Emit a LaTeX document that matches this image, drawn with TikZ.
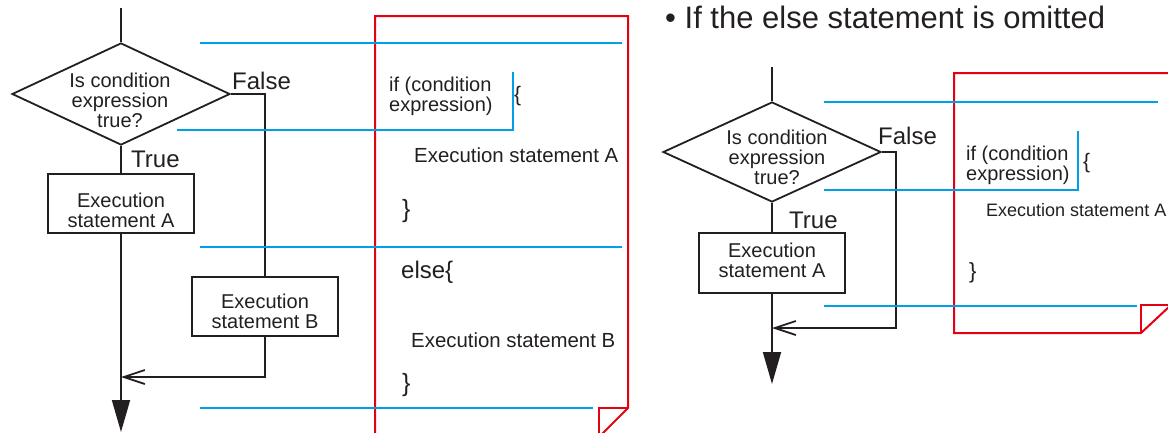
\documentclass[tikz,border=0pt]{standalone}
\usepackage{fontspec}
\setmainfont{Liberation Sans}
\usetikzlibrary{shapes.geometric,arrows.meta}
\definecolor{ink}{HTML}{231F20}
\definecolor{guide}{HTML}{00A0E9}
\definecolor{sheetred}{HTML}{E50012}
\newcommand\fsz[1]{\fontsize{#1}{#1}\selectfont}
\begin{document}
\begin{tikzpicture}[x=1pt,y=-1pt,
  flow/.style={draw=ink,line width=1.8pt},
  decide/.style={diamond,draw=ink,line width=1.8pt,inner sep=0pt,
    minimum width=218pt,minimum height=102pt,aspect=2.14},
  stmtbox/.style={draw=ink,line width=1.8pt,inner sep=0pt,
    minimum width=146pt,minimum height=59pt},
  txt/.style={text=ink,inner sep=0pt,font=\fsz{20}},
  ctxt/.style={txt,align=center,anchor=base},
  ltxt/.style={txt,align=left,anchor=base west},
  guideline/.style={draw=guide,line width=2pt},
  sheet/.style={draw=sheetred,line width=2pt,line join=miter},
  merge/.style={-{Straight Barb[length=21pt,width=14pt]}},
  down/.style={-{Triangle[length=32pt,width=18pt]}}
]
\clip (0,0) rectangle (1168,432);

% ---------- if / else flowchart ----------
% (multi-line labels are placed by the baseline of their last line)
\coordinate (topL) at (121,8);
\node[decide] (condL) at (121,94) {};
\node[ctxt] (condLt) at (120,127) {Is condition\\expression\\true?};
\node[txt,anchor=base west,font=\fsz{24}] (falseL) at (232,89) {False};
\node[txt,anchor=base west,font=\fsz{24}] (trueL) at (131,167) {True};
\node[stmtbox] (aL) at (121,203.5) {};
\node[ctxt] (aLt) at (121,227) {Execution\\statement A};
\node[stmtbox] (bL) at (265,306.5) {};
\node[ctxt] (bLt) at (265,328) {Execution\\statement B};
\coordinate (joinL) at (121,377);
\coordinate (endL) at (121,432);

\draw[flow] (topL) -- (condL.north);
\draw[flow] (condL.south) -- (aL.north);
\draw[flow] (condL.east) -| (bL.north);
\draw[flow,down] (aL.south) -- (endL);
\draw[flow,merge] (bL.south) |- (joinL);

% code sheet for if / else
\draw[sheet] (375,437) -- (375,16) -- (628,16) -- (628,408) -- (599,437) -- cycle;
\draw[sheet] (628,408) -- (599,408) -- (599,437);
\draw[guideline] (200,43) -- (622,43);
\draw[guideline] (177,130) -- (513,130) -- (513,72);
\draw[guideline] (200,247) -- (622,247);
\draw[guideline] (200,408) -- (593,408);

\node[ltxt] (ifL) at (389,111) {if (condition\\expression)};
\node[txt,anchor=base west,font=\fsz{21}] (openL) at (514,101) {\{};
\node[txt,anchor=base west,font=\fsz{20.4}] (stAL) at (414,162) {Execution statement A};
\node[txt,anchor=base west,font=\fsz{25}] (closeAL) at (402,217) {\}};
\node[txt,anchor=base west,font=\fsz{24}] (elseL) at (401,278) {else\{};
\node[txt,anchor=base west,font=\fsz{20.4}] (stBL) at (411,347) {Execution statement B};
\node[txt,anchor=base west,font=\fsz{25}] (closeBL) at (402,391) {\}};

% ---------- if without else ----------
\node[txt,anchor=base west,font=\fsz{31}] (title) at (665,28) {• If the else statement is omitted};

\coordinate (topR) at (772,67);
\node[decide,minimum height=100pt] (condR) at (772,152) {};
\node[ctxt] (condRt) at (777,184) {Is condition\\expression\\true?};
\node[txt,anchor=base west,font=\fsz{24}] (falseR) at (878,144) {False};
\node[txt,anchor=base west,font=\fsz{24}] (trueR) at (789,228) {True};
\node[stmtbox,minimum height=60pt] (aR) at (772,263) {};
\node[ctxt] (aRt) at (772,277) {Execution\\statement A};
\coordinate (turnR) at (896,328);
\coordinate (joinR) at (772,328);
\coordinate (endR) at (772,384);

\draw[flow] (topR) -- (condR.north);
\draw[flow] (condR.south) -- (aR.north);
\draw[flow,down] (aR.south) -- (endR);
\draw[flow,merge] (condR.east) -| (turnR) -- (joinR);

% code sheet for if only
\draw[sheet] (954,333) -- (954,73) -- (1171,73) -- (1171,305) -- (1141,333) -- cycle;
\draw[sheet] (1171,305) -- (1141,305) -- (1141,333);
\draw[guideline] (824,102) -- (1158,102);
\draw[guideline] (824,190) -- (1078,190) -- (1078,131);
\draw[guideline] (824,306) -- (1137,306);

\node[ltxt] (ifR) at (966,180) {if (condition\\expression)};
\node[txt,anchor=base west,font=\fsz{21}] (openR) at (1083,168) {\{};
\node[txt,anchor=base west,font=\fsz{18}] (stAR) at (986,216) {Execution statement A};
\node[txt,anchor=base west,font=\fsz{22}] (closeR) at (969,278) {\}};
\end{tikzpicture}
\end{document}
